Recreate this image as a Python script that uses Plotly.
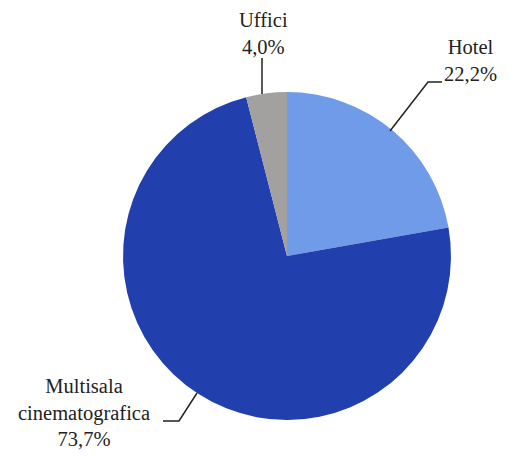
import plotly.graph_objects as go

categories = ["Hotel", "Multisala cinematografica", "Uffici"]
values = [22.2, 73.7, 4.0]
label_texts = ["Hotel<br>22,2%", "Multisala<br>cinematografica<br>73,7%", "Uffici<br>4,0%"]
colors = ["#6f9be8", "#2140ae", "#a3a0a0"]

W, H = 510, 456
OFF = 8  # page body margin
cx, cy, r = 287, 256, 164

def px(x):
    return (x - OFF) / W

def py(y):
    return 1 - (y - OFF) / H

fig = go.Figure(go.Pie(
    labels=categories,
    values=values,
    sort=False,
    direction="clockwise",
    rotation=0,
    textinfo="none",
    hoverinfo="label+percent",
    marker=dict(colors=colors, line=dict(width=0)),
    domain=dict(x=[px(cx - r), px(cx + r)], y=[py(cy + r), py(cy - r)]),
    showlegend=False,
))

font = dict(family="Times New Roman, Times, serif", size=20.5, color="#222222")
ann_pos = [(470, 60), (84, 412), (263, 33)]
for txt, (x, y) in zip(label_texts, ann_pos):
    fig.add_annotation(x=px(x), y=py(y), xref="paper", yref="paper", text=txt,
                       showarrow=False, font=font, align="center",
                       xanchor="center", yanchor="middle")

leaders = [
    [(390, 131), (428, 82), (442, 82)],
    [(163, 421), (179, 421), (197, 393)],
    [(262, 58), (262, 94)],
]
for pts in leaders:
    path = "M " + " L ".join(f"{px(x)},{py(y)}" for x, y in pts)
    fig.add_shape(type="path", path=path, xref="paper", yref="paper",
                  line=dict(color="#222222", width=1.5))

fig.update_layout(width=W, height=H, margin=dict(l=0, r=0, t=0, b=0),
                  paper_bgcolor="white", plot_bgcolor="white")

fig.write_html("out.html")
